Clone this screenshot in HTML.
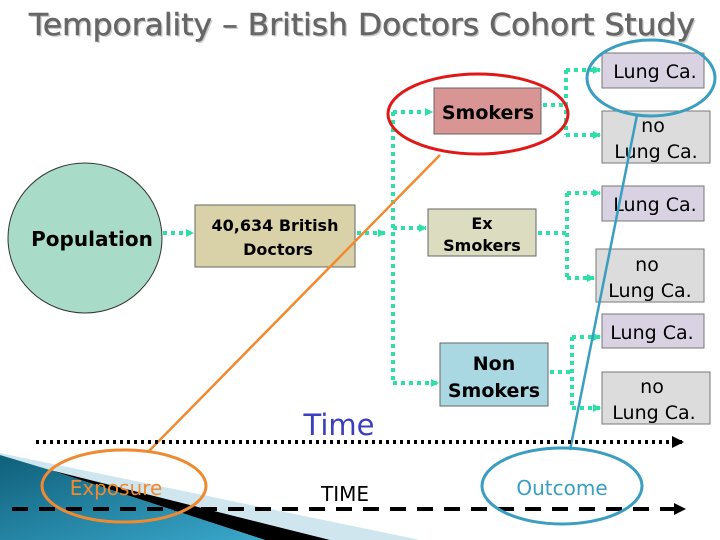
<!DOCTYPE html>
<html><head><meta charset="utf-8"><style>
html,body{margin:0;padding:0;background:#fff;}
svg{display:block;font-family:"DejaVu Sans","Liberation Sans",sans-serif;}
</style></head><body>
<svg width="720" height="540" viewBox="0 0 720 540" xmlns="http://www.w3.org/2000/svg">
<defs>
<linearGradient id="tg" x1="0" y1="0" x2="1" y2="1">
<stop offset="0" stop-color="#0f5f7a"/><stop offset="1" stop-color="#3aa8cc"/></linearGradient>
<marker id="ga" markerWidth="8" markerHeight="8" refX="7" refY="4" orient="auto" markerUnits="userSpaceOnUse"><path d="M0,0 L8,4 L0,8z" fill="#2de0a8"/></marker>
<marker id="ba" markerWidth="12" markerHeight="12" refX="10" refY="6" orient="auto" markerUnits="userSpaceOnUse"><path d="M0,0 L12,6 L0,12z" fill="#000"/></marker>
</defs>
<polygon points="0,453 420,540 0,540" fill="#cfe6ef"/>
<polygon points="50,470 330,540 265,540" fill="#000"/>
<polygon points="0,455 50,470 265,540 0,540" fill="url(#tg)"/>
<text x="29" y="35" font-size="30" fill="#ccc" textLength="666" lengthAdjust="spacingAndGlyphs" transform="translate(1.5,1.5)">Temporality – British Doctors Cohort Study</text>
<text x="29" y="35" font-size="30" fill="#666" stroke="#666" stroke-width="0.5" textLength="666" lengthAdjust="spacingAndGlyphs">Temporality – British Doctors Cohort Study</text>
<ellipse cx="85" cy="238" rx="77" ry="75" fill="#a9dcc8" stroke="#333" stroke-width="1"/>
<text x="92" y="246" font-size="20" font-weight="bold" text-anchor="middle">Population</text>
<rect x="195" y="205" width="160" height="62" fill="#d9d2a8" stroke="#666"/>
<text x="275" y="231" font-size="16" font-weight="bold" text-anchor="middle">40,634 British</text>
<text x="278" y="255" font-size="16" font-weight="bold" text-anchor="middle">Doctors</text>
<g stroke="#2de0a8" stroke-width="4" stroke-dasharray="4,4" fill="none">
<line x1="163" y1="233" x2="193" y2="233" marker-end="url(#ga)"/>
<line x1="357" y1="233" x2="385" y2="233" marker-end="url(#ga)"/>
<line x1="393" y1="112" x2="393" y2="383"/>
<line x1="393" y1="112" x2="432" y2="112" marker-end="url(#ga)"/>
<line x1="393" y1="228" x2="426" y2="228" marker-end="url(#ga)"/>
<line x1="393" y1="383" x2="438" y2="383" marker-end="url(#ga)"/>
<polyline points="543,105 566,105"/><polyline points="566,70 566,135"/>
<line x1="566" y1="70" x2="600" y2="70" marker-end="url(#ga)"/>
<line x1="566" y1="135" x2="600" y2="135" marker-end="url(#ga)"/>
<line x1="538" y1="233" x2="567" y2="233"/><polyline points="567,193 567,278"/>
<line x1="567" y1="193" x2="600" y2="193" marker-end="url(#ga)"/>
<line x1="567" y1="278" x2="594" y2="278" marker-end="url(#ga)"/>
<line x1="550" y1="372" x2="572" y2="372"/><polyline points="572,337 572,408"/>
<line x1="572" y1="337" x2="600" y2="337" marker-end="url(#ga)"/>
<line x1="572" y1="408" x2="600" y2="408" marker-end="url(#ga)"/>
</g>
<rect x="434" y="88" width="107" height="46" fill="#d99494" stroke="#666"/>
<text x="488" y="119" font-size="19" font-weight="bold" text-anchor="middle">Smokers</text>
<rect x="428" y="209" width="108" height="47" fill="#dcdcc0" stroke="#666"/>
<text x="482" y="229" font-size="16" font-weight="bold" text-anchor="middle">Ex</text>
<text x="482" y="251" font-size="16" font-weight="bold" text-anchor="middle">Smokers</text>
<rect x="440" y="343" width="108" height="63" fill="#a9d8e3" stroke="#666"/>
<text x="494" y="370" font-size="19" font-weight="bold" text-anchor="middle">Non</text>
<text x="494" y="397" font-size="19" font-weight="bold" text-anchor="middle">Smokers</text>
<g font-size="19" text-anchor="middle">
<rect x="602" y="53" width="102" height="35" fill="#d8d2e2" stroke="#777"/><text x="655" y="78">Lung Ca.</text>
<rect x="602" y="111" width="108" height="52" fill="#dcdcdc" stroke="#777"/><text x="653" y="132">no</text><text x="656" y="158">Lung Ca.</text>
<rect x="602" y="186" width="102" height="35" fill="#d8d2e2" stroke="#777"/><text x="655" y="211">Lung Ca.</text>
<rect x="596" y="249" width="108" height="53" fill="#dcdcdc" stroke="#777"/><text x="647" y="271">no</text><text x="650" y="297">Lung Ca.</text>
<rect x="602" y="314" width="102" height="34" fill="#d8d2e2" stroke="#777"/><text x="652" y="339">Lung Ca.</text>
<rect x="602" y="372" width="108" height="52" fill="#dcdcdc" stroke="#777"/><text x="652" y="393">no</text><text x="654" y="419">Lung Ca.</text>
</g>
<ellipse cx="478" cy="114" rx="90" ry="40" fill="none" stroke="#e01818" stroke-width="3"/>
<ellipse cx="651" cy="78" rx="64" ry="38" fill="none" stroke="#3a9ec0" stroke-width="3"/>
<line x1="440" y1="155" x2="148" y2="452" stroke="#f08a30" stroke-width="2.5"/>
<line x1="637" y1="115" x2="570" y2="450" stroke="#3a9ec0" stroke-width="2.5"/>
<text x="339" y="435" font-size="29" fill="#3d3dc0" text-anchor="middle">Time</text>
<line x1="36" y1="442" x2="682" y2="442" stroke="#000" stroke-width="4" stroke-dasharray="3,4" marker-end="url(#ba)"/>
<text x="345" y="501" font-size="20" text-anchor="middle">TIME</text>
<line x1="12" y1="509" x2="684" y2="509" stroke="#000" stroke-width="4" stroke-dasharray="16,11" marker-end="url(#ba)"/>
<ellipse cx="124" cy="486" rx="82" ry="36" fill="none" stroke="#f08a30" stroke-width="3"/>
<text x="116" y="495" font-size="20" fill="#f08a30" text-anchor="middle">Exposure</text>
<ellipse cx="562" cy="486" rx="80" ry="38" fill="none" stroke="#3a9ec0" stroke-width="3"/>
<text x="562" y="495" font-size="20" fill="#3a9ec0" text-anchor="middle">Outcome</text>
</svg>
</body></html>
